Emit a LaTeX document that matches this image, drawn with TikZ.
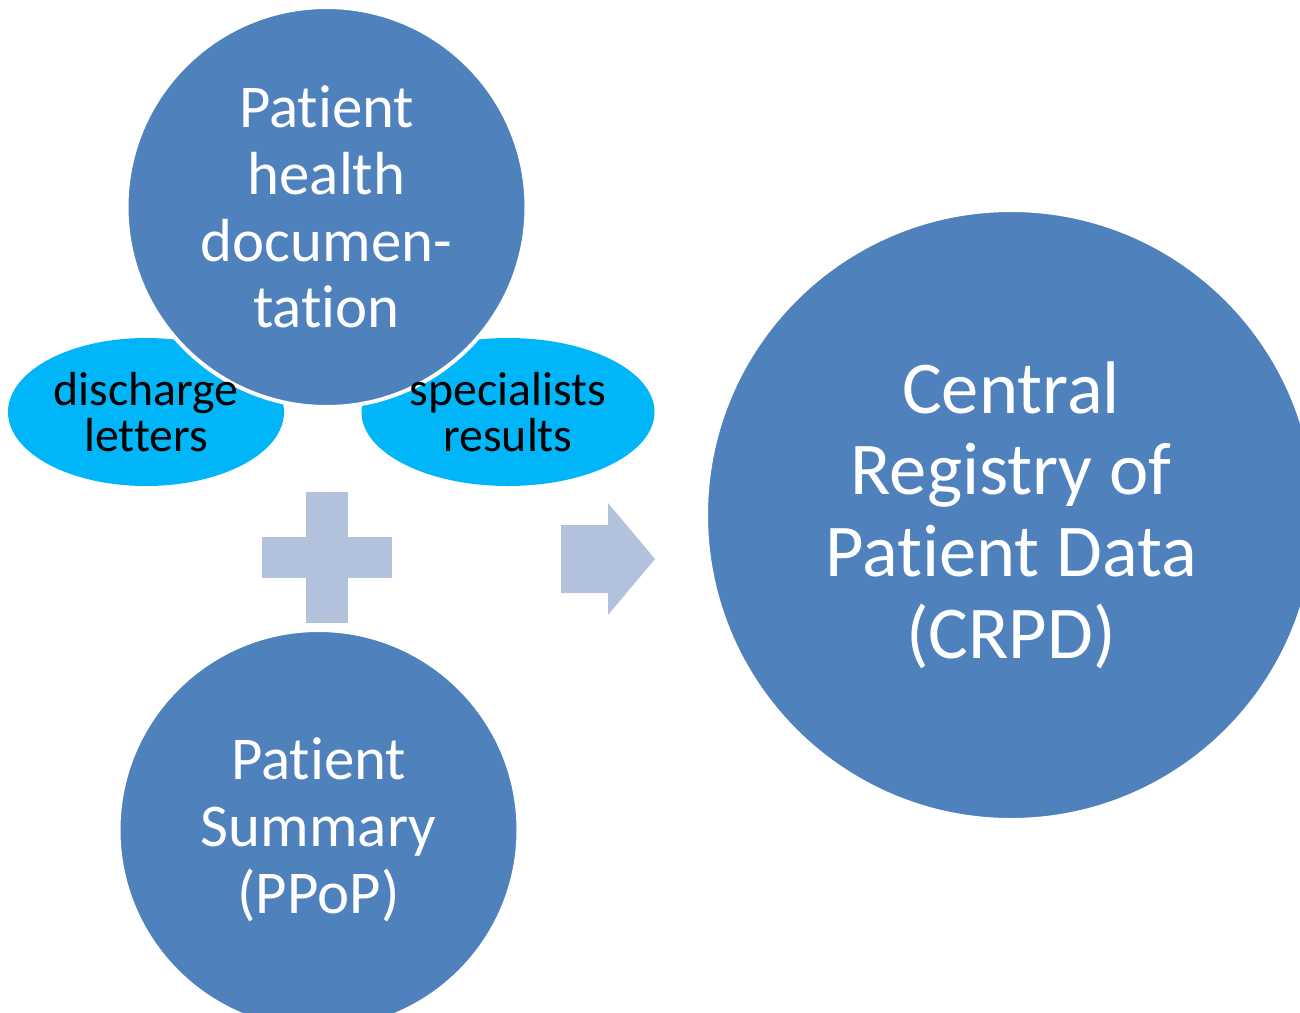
\documentclass[tikz,border=0pt]{standalone}
\usepackage{fontspec}
\setmainfont{Carlito}[Ligatures=NoCommon]
\usetikzlibrary{shapes.geometric}
\definecolor{circblue}{HTML}{4F81BD}
\definecolor{ovalblue}{HTML}{00B6F8}
\definecolor{signblue}{HTML}{B2C1DC}
\tikzset{
    %Define style for circles
    bol/.style={
           circle,
           fill=circblue,
           draw=white, line width=0.08cm,
           minimum size=8cm,
           inner sep=0pt,
           text=white,
           align=center,
           font=\fontsize{34.6}{38}\selectfont},
    %Define style for ovals
    ovaal/.style={
           ellipse,
           fill=ovalblue,
           minimum height=2.96cm,
           inner sep=0pt},
    % Define style for oval text
    zwart/.style={
           text=black,
           align=center,
           inner sep=0pt,
           font=\fontsize{27.2}{26.6}\selectfont},
    % Define style for plus and arrow
    teken/.style={
           fill=signblue}
}
\begin{document}
\begin{tikzpicture}

\clip (0,0) rectangle (26,-20.26);

%ovals behind the top circle
\node[ovaal, minimum width=5.52cm] (discharge) at (2.92,-8.24) {};
\node[ovaal, minimum width=5.86cm] (specialists) at (10.16,-8.24) {};

%top circle
\node[bol] (documentation) at (6.53,-4.14) {Patient\\health\\documen-\\tation};

%oval texts on top
\node[zwart] (dischargetext) at (discharge) {discharge\\letters};
\node[zwart] (specialiststext) at (specialists) {specialists\\results};

%plus
\fill[teken] (5.24,-10.74) rectangle (7.84,-11.56);
\fill[teken] (6.12,-9.84) rectangle (6.96,-12.46);

%arrow
\fill[teken] (11.22,-10.5) -- (12.16,-10.5) -- (12.16,-10.06) -- (13.1,-11.18)
  -- (12.16,-12.3) -- (12.16,-11.86) -- (11.22,-11.86) -- cycle;

%bottom circle
\node[bol] (summary) at (6.37,-16.6) {Patient\\Summary\\(PPoP)};

%big circle
\node[bol, minimum size=12.2cm, font=\fontsize{42.4}{46.5}\selectfont] (crpd) at (20.22,-10.3)
  {Central\\Registry of\\Patient Data\\(CRPD)};

\end{tikzpicture}
\end{document}
